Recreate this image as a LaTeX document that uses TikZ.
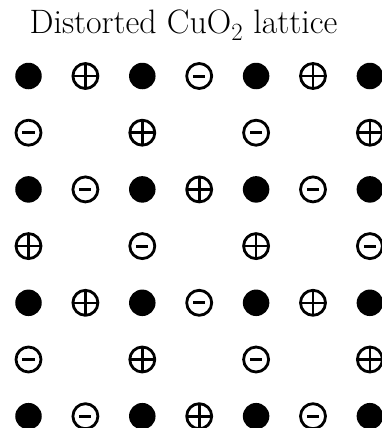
\documentclass[tikz,border=0pt]{standalone}
\usepackage{tikz}
\usepackage{amsmath}

\tikzset{
  cusite/.style={circle, fill=black, minimum size=26.5bp, inner sep=0pt},
  osite/.style={circle, draw, line width=2.8bp, minimum size=25bp, inner sep=0pt},
  oplus/.style={osite, path picture={
      \draw[line width=2.6bp] (path picture bounding box.north) -- (path picture bounding box.south)
        (path picture bounding box.west) -- (path picture bounding box.east);}},
  ominus/.style={osite, path picture={
      \draw[line width=3bp] ([xshift=-6bp]path picture bounding box.center) -- ([xshift=6bp]path picture bounding box.center);}}
}

\begin{document}
\begin{tikzpicture}[x=1bp, y=-1bp]
\useasboundingbox (0,0) rectangle (382,428);

\def\dx{56.9}
\def\dy{56.7}
\def\xo{28.5}
\def\yo{76}

\node[font=\fontsize{34}{38}\selectfont, anchor=base] (title) at (183.5,33) {Distorted CuO$_2$ lattice};

% Cu sites
\foreach \r in {0,2,4,6} {
    \foreach \c in {0,2,4,6} {
        \node[cusite] (cu\r\c) at (\c*\dx+\xo, \r*\dy+\yo) {};
    }
}

% O sites between Cu along rows
\foreach \c/\s in {1/oplus,3/ominus,5/oplus} \node[\s] (o0\c) at (\c*\dx+\xo, 0*\dy+\yo) {};
\foreach \c/\s in {1/ominus,3/oplus,5/ominus} \node[\s] (o2\c) at (\c*\dx+\xo, 2*\dy+\yo) {};
\foreach \c/\s in {1/oplus,3/ominus,5/oplus} \node[\s] (o4\c) at (\c*\dx+\xo, 4*\dy+\yo) {};
\foreach \c/\s in {1/ominus,3/oplus,5/ominus} \node[\s] (o6\c) at (\c*\dx+\xo, 6*\dy+\yo) {};

% O sites between Cu along columns
\foreach \c/\s in {0/ominus,2/oplus,4/ominus,6/oplus} \node[\s] (o1\c) at (\c*\dx+\xo, 1*\dy+\yo) {};
\foreach \c/\s in {0/oplus,2/ominus,4/oplus,6/ominus} \node[\s] (o3\c) at (\c*\dx+\xo, 3*\dy+\yo) {};
\foreach \c/\s in {0/ominus,2/oplus,4/ominus,6/oplus} \node[\s] (o5\c) at (\c*\dx+\xo, 5*\dy+\yo) {};

\end{tikzpicture}
\end{document}
